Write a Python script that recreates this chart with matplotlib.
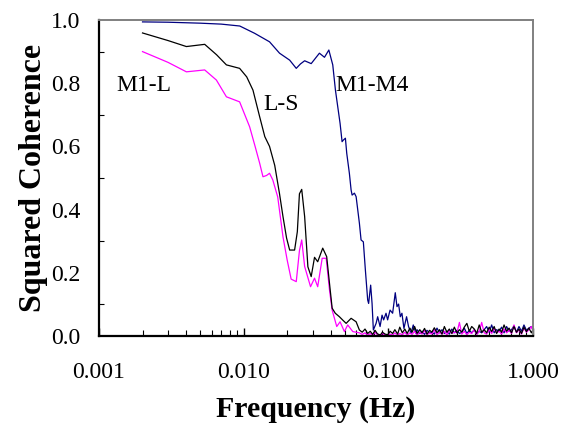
import matplotlib
matplotlib.use("Agg")
import matplotlib.pyplot as plt
from matplotlib.ticker import LogLocator, MultipleLocator, FixedLocator, NullFormatter

plt.rcParams['font.family'] = ['Liberation Serif', 'DejaVu Serif']

# ---- data ----
blue_freq = [0.002, 0.003, 0.005, 0.007, 0.0094, 0.0119, 0.0151, 0.0177, 0.0208, 0.0231,
             0.0247, 0.0264, 0.0293, 0.0334, 0.0362, 0.0388, 0.0413, 0.0431, 0.0447, 0.0464,
             0.0479, 0.0489, 0.0505, 0.0516, 0.0538, 0.0553, 0.0562, 0.0583, 0.0599, 0.0631,
             0.0648, 0.0672, 0.0694, 0.0720, 0.0731, 0.0755, 0.0772, 0.0788, 0.0823, 0.0844,
             0.0877, 0.0905, 0.0928, 0.0964, 0.0989, 0.1028, 0.1071, 0.1117, 0.1148, 0.1178,
             0.1210, 0.1242, 0.1282, 0.1337, 0.1380, 0.1435, 0.1487, 0.1552]
blue_coh = [0.994, 0.993, 0.99, 0.987, 0.981, 0.958, 0.931, 0.895, 0.873, 0.847,
            0.861, 0.871, 0.862, 0.895, 0.882, 0.905, 0.858, 0.778, 0.726, 0.673,
            0.615, 0.62, 0.626, 0.578, 0.515, 0.462, 0.446, 0.452, 0.441, 0.357,
            0.304, 0.298, 0.209, 0.114, 0.103, 0.161, 0.103, 0.019, 0.04, 0.061,
            0.03, 0.066, 0.051, 0.072, 0.051, 0.082, 0.072, 0.137, 0.093, 0.101,
            0.061, 0.072, 0.024, 0.061, 0.03, 0.008, 0.035, 0.008]

black_freq = [0.002, 0.003, 0.00402, 0.00538, 0.0065, 0.0076, 0.00938, 0.0105, 0.0116, 0.0129,
              0.0140, 0.0151, 0.0164, 0.0177, 0.0187, 0.0198, 0.0208, 0.0225, 0.0235, 0.0243,
              0.0252, 0.0264, 0.0278, 0.0293, 0.0309, 0.0325, 0.0352, 0.0375, 0.0392, 0.0409,
              0.0430, 0.0459, 0.0485, 0.0511, 0.0553, 0.0599, 0.0631]
black_coh = [0.959, 0.935, 0.916, 0.923, 0.89, 0.858, 0.847, 0.82, 0.778, 0.694,
             0.631, 0.6, 0.54, 0.45, 0.378, 0.31, 0.272, 0.272, 0.33, 0.45,
             0.464, 0.378, 0.219, 0.188, 0.249, 0.235, 0.278, 0.251, 0.167, 0.088,
             0.072, 0.061, 0.05, 0.04, 0.056, 0.045, 0.019]

mag_freq = [0.002, 0.003, 0.00402, 0.00538, 0.00648, 0.0076, 0.00938, 0.0110, 0.0120, 0.0129,
            0.0136, 0.0144, 0.0151, 0.0159, 0.0172, 0.0187, 0.0200, 0.0213, 0.0231, 0.0243,
            0.0252, 0.0264, 0.0290, 0.0309, 0.0325, 0.0349, 0.0372, 0.0392, 0.0409, 0.0440,
            0.0464, 0.0497, 0.0524, 0.0568, 0.0631]
mag_coh = [0.9, 0.866, 0.836, 0.842, 0.81, 0.757, 0.741, 0.662, 0.6, 0.547,
           0.504, 0.508, 0.515, 0.494, 0.44, 0.314, 0.24, 0.18, 0.172, 0.27,
           0.304, 0.22, 0.156, 0.183, 0.156, 0.246, 0.246, 0.146, 0.082, 0.03,
           0.045, 0.014, 0.035, 0.014, 0.01]

# noisy high-frequency tail
tail_freq = [0.066, 0.069, 0.072, 0.075, 0.078, 0.081, 0.084, 0.088, 0.091, 0.095,
             0.099, 0.103, 0.107, 0.111, 0.116, 0.120, 0.125, 0.130, 0.135, 0.141,
             0.146, 0.152, 0.158, 0.165, 0.171, 0.178, 0.185, 0.193, 0.200, 0.208,
             0.217, 0.226, 0.235, 0.244, 0.254, 0.264, 0.275, 0.286, 0.298, 0.310,
             0.322, 0.335, 0.349, 0.363, 0.377, 0.393, 0.408, 0.425, 0.442, 0.460,
             0.478, 0.498, 0.518, 0.539, 0.560, 0.583, 0.607, 0.631, 0.657, 0.683,
             0.711, 0.739, 0.769, 0.800, 0.833, 0.866, 0.901, 0.937, 0.975, 1.000]
black_tail = [0.012, 0.022, 0.008, 0.015, 0.005, 0.018, 0.007, 0.003, 0.012, 0.006,
              0.004, 0.015, 0.008, 0.02, 0.006, 0.028, 0.01, 0.022, 0.008, 0.025,
              0.012, 0.03, 0.008, 0.02, 0.01, 0.024, 0.006, 0.018, 0.012, 0.026,
              0.01, 0.02, 0.006, 0.03, 0.012, 0.022, 0.008, 0.028, 0.01, 0.02,
              0.012, 0.028, 0.04, 0.015, 0.03, 0.022, 0.008, 0.035, 0.012, 0.02,
              0.01, 0.028, 0.014, 0.03, 0.008, 0.022, 0.012, 0.035, 0.015, 0.025,
              0.01, 0.03, 0.012, 0.022, 0.008, 0.028, 0.014, 0.025, 0.01, 0.02]
mag_tail = [0.005, 0.01, 0.003, 0.008, 0.002, 0.012, 0.004, 0.002, 0.008, 0.003,
            0.002, 0.006, 0.003, 0.01, 0.002, 0.008, 0.004, 0.012, 0.003, 0.01,
            0.005, 0.015, 0.003, 0.012, 0.006, 0.018, 0.004, 0.01, 0.006, 0.02,
            0.004, 0.012, 0.006, 0.015, 0.003, 0.018, 0.008, 0.012, 0.01, 0.043,
            0.006, 0.015, 0.004, 0.012, 0.008, 0.02, 0.005, 0.014, 0.043, 0.01,
            0.006, 0.02, 0.008, 0.025, 0.01, 0.015, 0.006, 0.022, 0.01, 0.018,
            0.008, 0.035, 0.01, 0.02, 0.006, 0.025, 0.012, 0.02, 0.03, 0.015]
blue_tail = [0.02, 0.008, 0.015, 0.005, 0.018, 0.01, 0.012, 0.006,
             0.025, 0.01, 0.02, 0.008, 0.015, 0.006, 0.022, 0.01, 0.018, 0.008,
             0.012, 0.025, 0.008, 0.018, 0.01, 0.02, 0.006, 0.015, 0.01, 0.02,
             0.03, 0.012, 0.035, 0.01, 0.02, 0.015, 0.028, 0.01, 0.03, 0.015,
             0.02, 0.032, 0.012, 0.03, 0.015, 0.035, 0.018, 0.025, 0.03, 0.02]

x_tick_vals = [0.001, 0.01, 0.1, 1.0]
x_tick_labels = ["0.001", "0.010", "0.100", "1.000"]
y_tick_vals = [0.0, 0.2, 0.4, 0.6, 0.8, 1.0]
y_tick_labels = ["0.0", "0.2", "0.4", "0.6", "0.8", "1.0"]

# ---- figure ----
fig = plt.figure(figsize=(5.63, 4.34), dpi=100)
ax = fig.add_axes([0.1758, 0.2258, 0.7709, 0.7281])

blue_x = blue_freq + tail_freq[len(tail_freq) - len(blue_tail):]
blue_y = blue_coh + blue_tail
ax.plot(blue_x, blue_y, color='#000080', lw=0.9)
ax.plot(mag_freq + tail_freq, mag_coh + mag_tail, color='#FF00FF', lw=0.9)
ax.plot(black_freq + tail_freq, black_coh + black_tail, color='black', lw=0.9)

ax.set_xscale('log')
ax.set_xlim(0.001, 1.0)
ax.set_ylim(0.0, 1.0)

ax.xaxis.set_major_locator(FixedLocator(x_tick_vals))
ax.set_xticklabels(x_tick_labels)
ax.xaxis.set_minor_locator(LogLocator(base=10, subs=range(2, 10)))
ax.xaxis.set_minor_formatter(NullFormatter())
ax.yaxis.set_major_locator(FixedLocator(y_tick_vals))
ax.set_yticklabels(y_tick_labels)
ax.yaxis.set_minor_locator(MultipleLocator(0.1))

ax.tick_params(axis='x', which='major', direction='in', length=5.5, width=1.0,
               labelsize=17, pad=18.5, top=False)
ax.tick_params(axis='x', which='minor', direction='in', length=4, width=0.8, top=False)
ax.tick_params(axis='y', which='major', direction='in', length=0, labelsize=17, pad=13.5,
               right=False)
ax.tick_params(axis='y', which='minor', direction='in', length=3.5, width=0.8, right=False)

for s in ('left', 'bottom'):
    ax.spines[s].set_linewidth(1.6)
    ax.spines[s].set_color('black')
for s in ('top', 'right'):
    ax.spines[s].set_linewidth(1.4)
    ax.spines[s].set_color('#808080')

ax.set_xlabel('Frequency (Hz)', fontsize=21.5, fontweight='bold', labelpad=9.5)
ax.set_ylabel('Squared Coherence', fontsize=23, fontweight='bold', labelpad=2)

ax.text(0.00132, 0.776, 'M1-L', fontsize=17, ha='left', va='baseline')
ax.text(0.01374, 0.715, 'L-S', fontsize=17, ha='left', va='baseline')
ax.text(0.0431, 0.776, 'M1-M4', fontsize=17, ha='left', va='baseline')

fig.savefig('out.png', dpi=100)
